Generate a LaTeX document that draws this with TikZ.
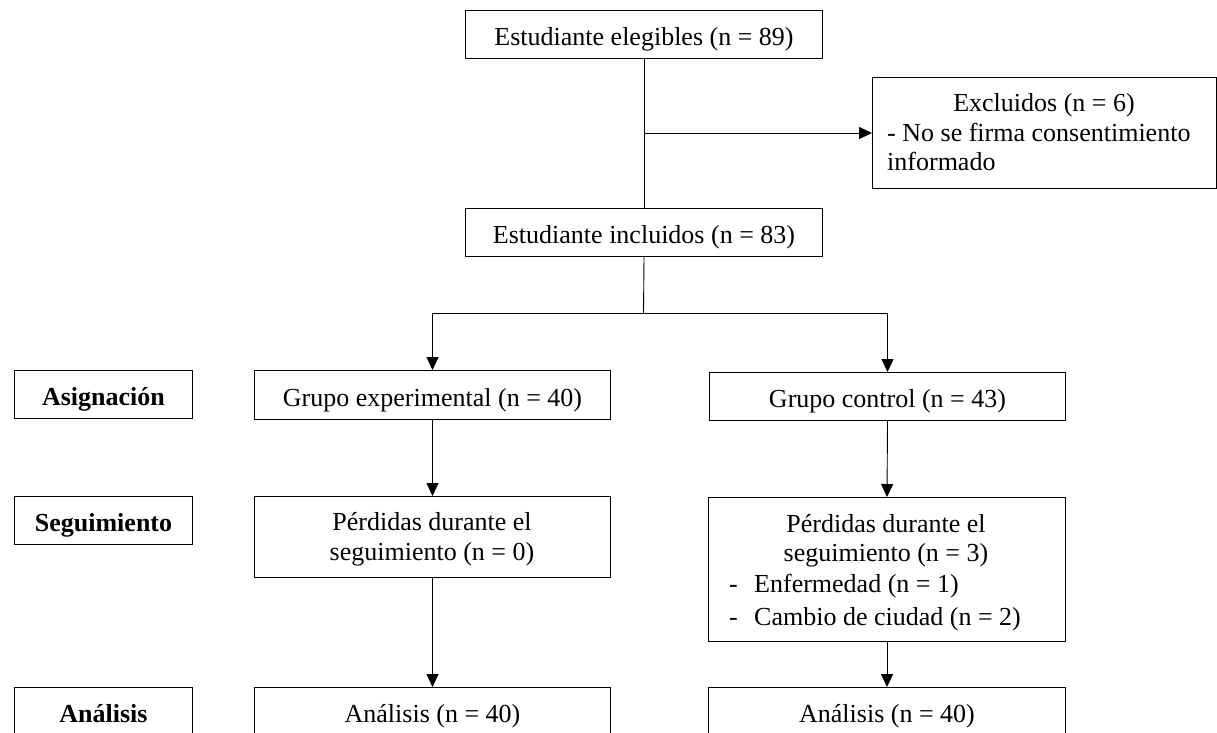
\documentclass[tikz,border=0pt]{standalone}
\usepackage{fontspec}
\setmainfont{Liberation Serif}
\usetikzlibrary{arrows.meta}
\begin{document}
\begin{tikzpicture}[x=1pt,y=-1pt,
  font=\fontsize{26}{30}\selectfont,
  box/.style={draw, line width=1pt, anchor=north west, inner sep=0pt, text height=22pt, text depth=0pt},
  txt/.style={inner sep=0pt, anchor=mid},
  txtl/.style={inner sep=0pt, anchor=mid west},
  arr/.style={line width=0.9pt, -{Triangle[length=13pt,width=12pt]}},
  ln/.style={line width=0.9pt}]
\useasboundingbox (0,0) rectangle (1217,732);
\clip (0,0) rectangle (1217,732);
% top part
\node[box, minimum width=357pt, minimum height=48pt] (eleg) at (465,10) {Estudiante elegibles (n = 89)};
\node[box, minimum width=344pt, minimum height=111pt] (excl) at (872,77) {};
\node[txt] (exclT) at (1044,109) {Excluidos (n = 6)};
\node[txtl] (exclA) at (887,139) {- No se firma consentimiento};
\node[txtl] (exclB) at (887,168) {informado};
\node[box, minimum width=357pt, minimum height=48pt] (incl) at (465,208) {Estudiante incluidos (n = 83)};
% row labels
\node[box, minimum width=178pt, minimum height=48pt] (asig) at (14,370) {\textbf{Asignación}};
\node[box, minimum width=178pt, minimum height=48pt] (segu) at (14,496) {\textbf{Seguimiento}};
\node[box, minimum width=178pt, minimum height=48pt] (anal) at (14,687) {\textbf{Análisis}};
% groups
\node[box, minimum width=356pt, minimum height=49pt] (ge) at (254,370) {Grupo experimental (n = 40)};
\node[box, minimum width=356pt, minimum height=48pt] (gc) at (709,372) {Grupo control (n = 43)};
% follow-up
\node[box, minimum width=356pt, minimum height=81pt] (pl) at (254,496) {};
\node[txt] (plA) at (432,528) {Pérdidas durante el};
\node[txt] (plB) at (432,558) {seguimiento (n = 0)};
\node[box, minimum width=357pt, minimum height=144pt] (pr) at (708,497) {};
\node[txt] (prA) at (886,530) {Pérdidas durante el};
\node[txt] (prB) at (886,559) {seguimiento (n = 3)};
\node[txtl] (prC0) at (729,590) {-};
\node[txtl] (prC) at (754,590) {Enfermedad (n = 1)};
\node[txtl] (prD0) at (729,623) {-};
\node[txtl] (prD) at (754,623) {Cambio de ciudad (n = 2)};
% analysis
\node[box, minimum width=356pt, minimum height=48pt] (al) at (254,687) {Análisis (n = 40)};
\node[box, minimum width=357pt, minimum height=48pt] (ar) at (708,687) {Análisis (n = 40)};
% connectors
\draw[ln] (eleg.south) -- (incl.north);
\draw[arr] (eleg.south |- excl.west) -- (excl.west);
\coordinate (br) at (643.5,313);
\draw[ln] (incl.south) -- (br);
\draw[arr] (br) -| (ge.north);
\draw[arr] (br) -| (gc.north);
\draw[arr] (ge.south) -- (pl.north);
\draw[arr] (pl.south) -- (al.north);
\draw[arr] (gc.south) -- (pr.north);
\draw[arr] (pr.south) -- (ar.north);
\end{tikzpicture}
\end{document}
